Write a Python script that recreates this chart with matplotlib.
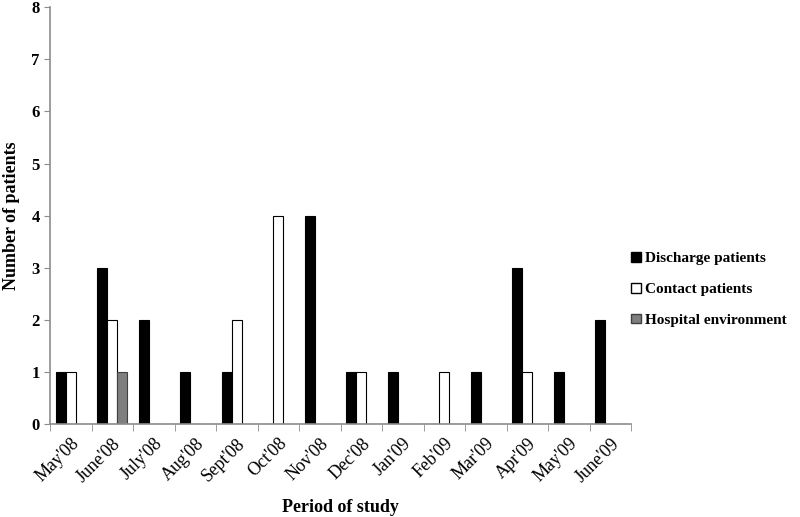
import numpy as np
import matplotlib.pyplot as plt
from matplotlib.patches import Patch

plt.rcParams['font.family'] = ['Liberation Serif', 'DejaVu Serif']

months = ["May'08", "June'08", "July'08", "Aug'08", "Sept'08", "Oct'08", "Nov'08",
          "Dec'08", "Jan'09", "Feb'09", "Mar'09", "Apr'09", "May'09", "June'09"]
discharge = [1, 3, 2, 1, 1, 0, 4, 1, 1, 0, 1, 3, 1, 2]
contact = [1, 2, 0, 0, 2, 4, 0, 1, 0, 1, 0, 1, 0, 0]
hospital = [0, 1, 0, 0, 0, 0, 0, 0, 0, 0, 0, 0, 0, 0]

fig = plt.figure(figsize=(8, 5.17), dpi=100)
ax = fig.add_axes([0.0625, 0.18, 0.7265, 0.806])

x = np.arange(len(months))
w = 0.24
ax.bar(x - w, discharge, w, color='black', edgecolor='black', linewidth=0.8)
ax.bar(x, contact, w, color='white', edgecolor='black', linewidth=0.8)
ax.bar(x + w, hospital, w, color='#7f7f7f', edgecolor='#404040', linewidth=0.8)

ax.set_xlim(-0.5, len(months) - 0.5)
ax.set_ylim(0, 8)
ax.set_yticks(range(0, 9))
ax.set_xticks(x)
ax.set_xticklabels(months, rotation=45, ha='right', rotation_mode='anchor', fontsize=13)
ax.set_xticks(np.arange(-0.5, len(months)), minor=True)
ax.tick_params(axis='x', which='major', length=0, pad=8)
ax.tick_params(axis='x', which='minor', length=5, color='#8c8c8c', direction='out')
ax.tick_params(axis='y', length=4, color='#8c8c8c', labelsize=12)
for lab in ax.get_yticklabels():
    lab.set_fontweight('bold')

for s in ['top', 'right']:
    ax.spines[s].set_visible(False)
for s in ['left', 'bottom']:
    ax.spines[s].set_color('#8c8c8c')
    ax.spines[s].set_linewidth(1.2)

ax.set_xlabel('Period of study', fontsize=13, fontweight='bold', labelpad=10)
ax.set_ylabel('Number of patients', fontsize=13, fontweight='bold', labelpad=8)

handles = [Patch(facecolor='black', edgecolor='black'),
           Patch(facecolor='white', edgecolor='black'),
           Patch(facecolor='#7f7f7f', edgecolor='#404040')]
fig.legend(handles, ['Discharge patients', 'Contact patients', 'Hospital environment'],
           loc='center left', bbox_to_anchor=(0.772, 0.44), frameon=False,
           handlelength=0.6, handleheight=0.6, handletextpad=0.3,
           labelspacing=1.15, prop={'weight': 'bold', 'size': 11})

fig.savefig('out.png', dpi=100)
